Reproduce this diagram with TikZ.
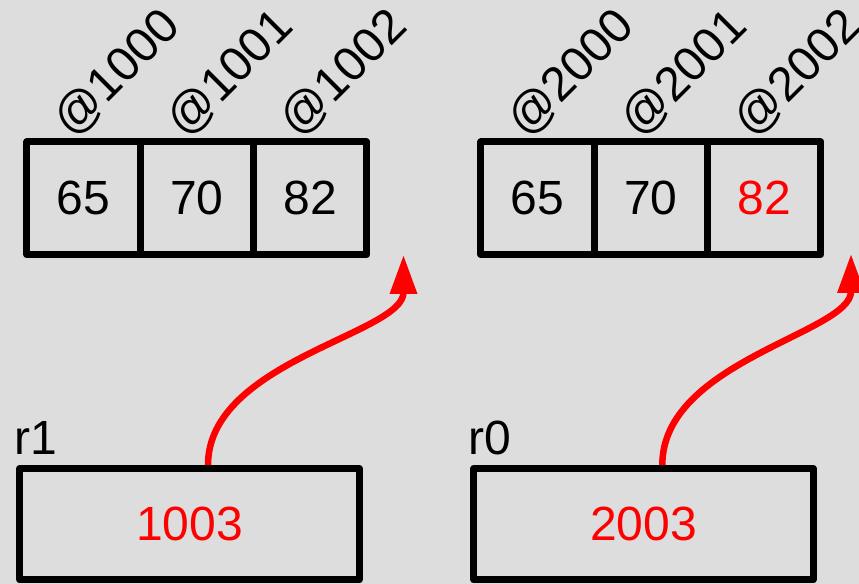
\documentclass[tikz,border=0pt]{standalone}
\usepackage{fontspec}
\setmainfont{Liberation Sans}
\usetikzlibrary{arrows.meta,calc}
\definecolor{paper}{HTML}{DDDDDD}
\tikzset{
  txt/.style={font=\fontsize{36}{43}\selectfont, inner sep=0pt},
  cell/.style={draw=black, line width=5.25pt, line join=round,
    minimum width=85pt, minimum height=84.4pt, inner sep=0pt,
    txt},
  reg/.style={draw=black, line width=5.25pt, line join=round,
    minimum width=254.5pt, minimum height=83.6pt, inner sep=0pt,
    txt, text=red},
  addr/.style={txt, rotate=45, anchor=base west},
  regname/.style={txt, anchor=base west},
  ptr/.style={draw=red, line width=4.9pt,
    -{Triangle[length=29.25pt, width=19.5pt]}}
}
\begin{document}
\begin{tikzpicture}[x=0.75pt, y=-0.75pt]
  % canvas
  \fill[paper] (0,0) rectangle (859,584);
  \useasboundingbox (0,0) rectangle (859,584);

  % first array (addresses 1000..1002)
  \node[cell] (a0) at (83.65,198.25) {65};
  \node[cell] (a1) at (196.95,198.25) {70};
  \node[cell] (a2) at (310.25,198.25) {82};
  % second array (addresses 2000..2002)
  \node[cell] (b0) at (537.65,198.25) {65};
  \node[cell] (b1) at (650.95,198.25) {70};
  \node[cell, text=red] (b2) at (764.25,198.25) {82};

  % address labels
  \node[addr] (la0) at ($(a0.north)+(-11.5,0.5)$) {@1000};
  \node[addr] (la1) at ($(a1.north)+(-11.5,0.5)$) {@1001};
  \node[addr] (la2) at ($(a2.north)+(-11.5,0.5)$) {@1002};
  \node[addr] (lb0) at ($(b0.north)+(-11.5,0.5)$) {@2000};
  \node[addr] (lb1) at ($(b1.north)+(-11.5,0.5)$) {@2001};
  \node[addr] (lb2) at ($(b2.north)+(-11.5,0.5)$) {@2002};

  % registers
  \node[reg] (r1) at (189.5,524.25) {1003};
  \node[reg] (r0) at (643.5,524.25) {2003};
  \node[regname] (n1) at ($(r1.north west)+(-2.5,-11)$) {r1};
  \node[regname] (n0) at ($(r0.north west)+(-2.5,-11)$) {r0};

  % pointer ends, just past the end of each array
  \coordinate (t1) at (403.5,255);
  \coordinate (t0) at (851,254);

  % pointers
  \draw[ptr] ($(r1.north)+(18.5,0)$) .. controls +(0,-104) and +(0,79) .. (t1);
  \draw[ptr] ($(r0.north)+(18.8,0)$) .. controls +(0,-104) and +(0,79) .. (t0);
\end{tikzpicture}
\end{document}
